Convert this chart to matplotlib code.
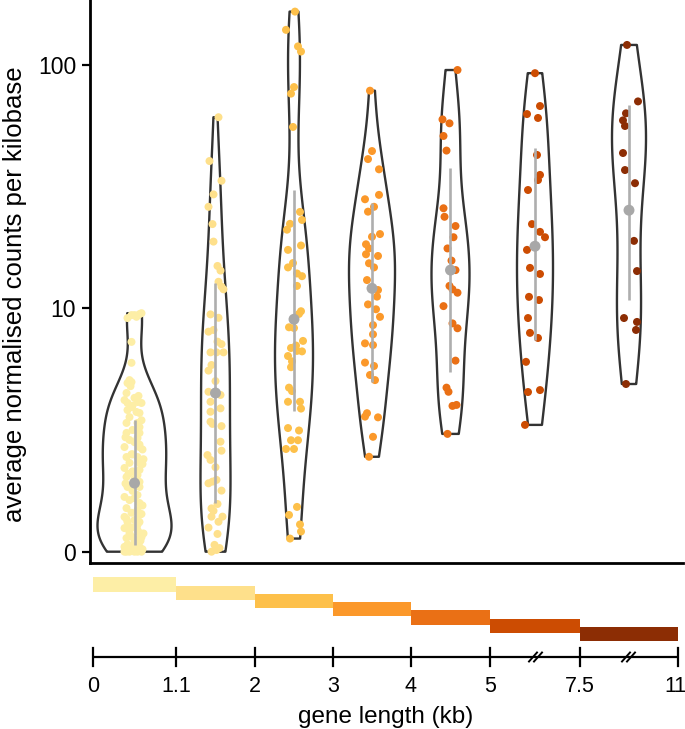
import numpy as np
import matplotlib
matplotlib.use("Agg")
import matplotlib.pyplot as plt

plt.rcParams['font.family'] = ['Liberation Sans', 'DejaVu Sans']

# ---------------- data ----------------
bin_labels = ['0', '1.1', '2', '3', '4', '5', '7.5', '11']
y_tick_vals = [0, 1, 2]            # log10 scale positions
y_tick_labels = ['0', '10', '100']

# values are log10-transformed averages; jitter offsets (px)
g1_vals = [0.96, 0.972, 0.965, 0.976, 0.98, 0.972, 0.862, 0.776, 0.705, 0.697, 0.693,
           0.652, 0.623, 0.611, 0.632, 0.615, 0.611, 0.582, 0.594, 0.574, 0.57, 0.553,
           0.529, 0.529, 0.512, 0.488, 0.488, 0.467, 0.459, 0.43, 0.43, 0.389, 0.389,
           0.365, 0.365, 0.344, 0.336, 0.307, 0.315, 0.287, 0.266, 0.266, 0.225, 0.233,
           0.212, 0.2, 0.179, 0.171, 0.143, 0.151, 0.122, 0.122, 0.097, 0.089, 0.077,
           0.077, 0.056, 0.048, 0.02, 0.02, 0.0, 0.0, 0.0, 0.0, 0.0, 0.02, 0.04, 0.06,
           0.1, 0.13, 0.16, 0.19, 0.22, 0.25, 0.28, 0.3, 0.33, 0.36, 0.4, 0.42, 0.45,
           0.5, 0.54, 0.6, 0.64, 0.68,
           0.0, 0.01, 0.03, 0.045, 0.06, 0.075, 0.09, 0.11, 0.135, 0.155,
           0.32, 0.38, 0.40, 0.44, 0.47, 0.50]
g1_jit = [-7, -3, 2, 5, 7, 0, -3, -3, -5, -3, -7, -8, -10, -7, 0, 3, 7, -7, -3, 2, 5, -5,
          -8, 3, 5, -8, 5, 3, -5, -10, 5, -8, 3, -5, 5, -10, 5, -8, 3, 5, -7, 5, -10, 3,
          -5, 5, -8, 3, -10, 5, -7, 5, -10, 3, -5, 5, -8, 3, -10, 5, -5, 0, 7, -8, 3,
          -2, 0, 7, -3, 0, -3, 8, 0, -2, -9, 0, -2, 8, -3, 8, 0, -2, 7, -2, 4, -4,
          -10, 8, -7, 6, -2, 9, -5, 3, -8, 7,
          -6, 9, -2, 5, -9, 2]

g2_vals = [1.785, 1.605, 1.524, 1.468, 1.417, 1.346, 1.274, 1.174, 1.155, 1.109, 1.089,
           1.078, 0.975, 0.961, 0.904, 0.911, 0.863, 0.853, 0.819, 0.819, 0.819, 0.767,
           0.744, 0.701, 0.657, 0.644, 0.616, 0.589, 0.575, 0.534, 0.525, 0.516, 0.452,
           0.415, 0.397, 0.377, 0.347, 0.281, 0.288, 0.295, 0.251, 0.196, 0.178, 0.168,
           0.144, 0.144, 0.123, 0.099, 0.073, 0.028, 0.007, 0.0, 0.015]
g2_jit = [3, -6, 6, -2, -7, -3, -2, 2, 5, 3, 6, 8, -5, 3, -7, -2, 2, 6, -5, 1, 8, -4, -7,
          0, -7, 5, -5, 5, -5, -5, -3, 6, 5, 6, -8, -5, 0, -7, -3, 1, 6, 2, -4, -2, 7,
          -4, 3, -7, 2, -1, 1, -4, 4]

g3_vals = [2.219, 2.144, 2.076, 2.055, 1.909, 1.882, 1.745, 1.396, 1.363, 1.347, 1.323,
           1.258, 1.240, 1.186, 1.168, 1.143, 1.132, 1.092, 0.988, 0.977, 0.922, 0.919,
           0.866, 0.847, 0.837, 0.823, 0.825, 0.804, 0.782, 0.758, 0.674, 0.66, 0.616,
           0.616, 0.588, 0.508, 0.498, 0.458, 0.458, 0.422, 0.422, 0.184, 0.151, 0.112,
           0.083, 0.054]
g3_jit = [1, -8, 4, 7, 0, -3, -1, 6, 8, -4, -7, 7, -6, -1, -6, 3, 8, 3, 7, 5, -5, 0, 9,
          2, -3, 8, 3, -6, -2, -3, -5, -2, -6, 6, 7, -6, 5, 4, -3, -8, 0, 3, -5, 6, 7, -4]

g4_vals = [1.894, 1.646, 1.613, 1.571, 1.448, 1.466, 1.397, 1.417, 1.294, 1.305, 1.263,
           1.246, 1.222, 1.215, 1.185, 1.168, 1.116, 1.075, 1.048, 1.016, 0.996, 0.965,
           0.931, 0.893, 0.856, 0.849, 0.777, 0.763, 0.726, 0.705, 0.555, 0.569, 0.552,
           0.472, 0.390]
g4_jit = [-2, 0, -4, 7, -7, 7, -4, 2, 0, 8, -6, -3, -6, 6, -3, 2, -5, 6, 5, -4, 4, 8, 1,
          1, -7, 1, -7, 2, -2, 3, -7, -5, 6, 1, -3]

g5_vals = [1.979, 1.776, 1.760, 1.708, 1.648, 1.411, 1.376, 1.338, 1.292, 1.246, 1.196,
           1.157, 1.092, 1.078, 1.064, 1.009, 0.938, 0.918, 0.785, 0.674, 0.657, 0.599,
           0.603, 0.484]
g5_jit = [7, -8, -1, -7, -4, -7, -6, 5, 3, -3, 1, 5, -1, 2, 7, -7, 2, 7, 5, -4, -2, 2, 6, -3]

g6_vals = [1.966, 1.798, 1.831, 1.782, 1.630, 1.548, 1.527, 1.486, 1.346, 1.314, 1.292,
           1.240, 1.166, 1.141, 1.047, 1.034, 0.960, 0.899, 0.878, 0.780, 0.664, 0.656,
           0.521]
g6_jit = [0, -8, 5, 3, 2, 5, 3, -7, -3, 5, 10, -8, -5, 5, -6, 4, -7, -5, 3, -9, 5, -7, -10]

g7_vals = [2.082, 1.850, 1.801, 1.772, 1.749, 1.638, 1.568, 1.514, 1.277, 1.153, 0.960,
           0.944, 0.911, 0.689]
g7_jit = [-2, 9, -3, -6, -4, -6, -4, 6, 5, 8, -5, 8, 7, -3]

# summary (gray dot and range line), log10 units
summ_med = [0.282, 0.652, 0.955, 1.082, 1.157, 1.255, 1.403]
summ_low = [0.028, 0.199, 0.580, 0.698, 0.740, 0.870, 1.035]
summ_high = [0.541, 1.104, 1.488, 1.431, 1.575, 1.659, 1.836]

colors = ['#FDEEA6', '#FEE08B', '#FDC04A', '#FB982A', '#EA7015', '#CC4C02', '#8C2D04']

groups = [g1_vals, g2_vals, g3_vals, g4_vals, g5_vals, g6_vals, g7_vals]
jitters = [g1_jit, g2_jit, g3_jit, g4_jit, g5_jit, g6_jit, g7_jit]

# ---------------- layout (pixel units) ----------------
W, H = 685, 729
bound_px = [93, 176, 255, 333, 411, 490, 580, 678]
half_w = [37, 15, 19, 23, 19, 18, 17]
centers = [(bound_px[i] + bound_px[i + 1]) / 2 for i in range(7)]

fig = plt.figure(figsize=(W / 100, H / 100), dpi=100)

ax_left, ax_right, ax_top, ax_bot = 90, 683, 0, 563
ax = fig.add_axes([ax_left / W, 1 - ax_bot / H, (ax_right - ax_left) / W, (ax_bot - ax_top) / H])
ax.set_xlim(ax_left, ax_right)
px_per_unit = 243.4
y0_px = 551.7
ax.set_ylim((y0_px - ax_bot) / px_per_unit, (y0_px - ax_top) / px_per_unit)


def nrd0(kde):
    x = np.asarray(kde.dataset).ravel()
    sd = x.std(ddof=1)
    q75, q25 = np.percentile(x, [75, 25])
    lo = min(sd, (q75 - q25) / 1.34)
    if lo <= 0:
        lo = sd
    bw = 0.9 * lo * len(x) ** (-0.2)
    return bw / sd


vp = ax.violinplot([np.array(g) for g in groups], positions=centers,
                   widths=[2 * h for h in half_w], showextrema=False,
                   bw_method=nrd0, points=300)
for body in vp['bodies']:
    body.set_facecolor('none')
    body.set_edgecolor('#333333')
    body.set_linewidth(1.7)
    body.set_alpha(1)
    body.set_zorder(2)

for i, (vals, jit) in enumerate(zip(groups, jitters)):
    xs = [centers[i] + j for j in jit]
    ax.scatter(xs, vals, s=33, color=colors[i], edgecolors='none', zorder=3)
    ax.plot([centers[i], centers[i]], [summ_low[i], summ_high[i]],
            color='#AEAEAE', lw=1.9, zorder=4, solid_capstyle='butt')
    ax.scatter([centers[i]], [summ_med[i]], s=62, color='#A8A8A8',
               edgecolors='none', zorder=5)

for s in ['top', 'right']:
    ax.spines[s].set_visible(False)
for s in ['left', 'bottom']:
    ax.spines[s].set_linewidth(2)
    ax.spines[s].set_color('black')
ax.set_xticks([])
ax.set_yticks(y_tick_vals)
ax.set_yticklabels(y_tick_labels)
ax.tick_params(axis='y', length=6, width=1.6, labelsize=16.5, pad=4, colors='black')

fig.text(15 / W, 1 - 294 / H, 'average normalised counts per kilobase',
         rotation=90, ha='center', va='center', fontsize=18.5)

# ---------------- overlay for bins bar & scale ----------------
ov = fig.add_axes([0, 0, 1, 1])
ov.set_xlim(0, W)
ov.set_ylim(H, 0)
ov.axis('off')

bar_top0 = 577.3
bar_step = 8.25
bar_h = 14.3
lefts = bound_px[:-1]
widths = [bound_px[i + 1] - bound_px[i] for i in range(7)]
bottoms = [bar_top0 + i * bar_step for i in range(7)]
ov.bar(lefts, [bar_h] * 7, width=widths, bottom=bottoms, align='edge',
       color=colors, edgecolor='none')

line_y = 657
ov.plot([bound_px[0], bound_px[-1]], [line_y, line_y], color='black', lw=1.6,
        solid_capstyle='butt')
for k, (xp, lab) in enumerate(zip(bound_px, bin_labels)):
    ov.plot([xp, xp], [line_y - 9, line_y + 9], color='black', lw=1.6)
    tx = xp if k < len(bound_px) - 1 else min(xp, W - 10)
    ov.text(tx, 687, lab, ha='center', va='center', fontsize=15.5)

for cx in [(bound_px[5] + bound_px[6]) / 2 + 1, (bound_px[6] + bound_px[7]) / 2]:
    for k in range(2):
        x0 = cx - 7 + 5 * k
        ov.plot([x0, x0 + 8], [line_y + 4.5, line_y - 4.5], color='black', lw=1.4)

ov.text((bound_px[0] + bound_px[-1]) / 2, 717, 'gene length (kb)', ha='center',
        va='center', fontsize=17.5)

fig.savefig('out.png', dpi=100)
